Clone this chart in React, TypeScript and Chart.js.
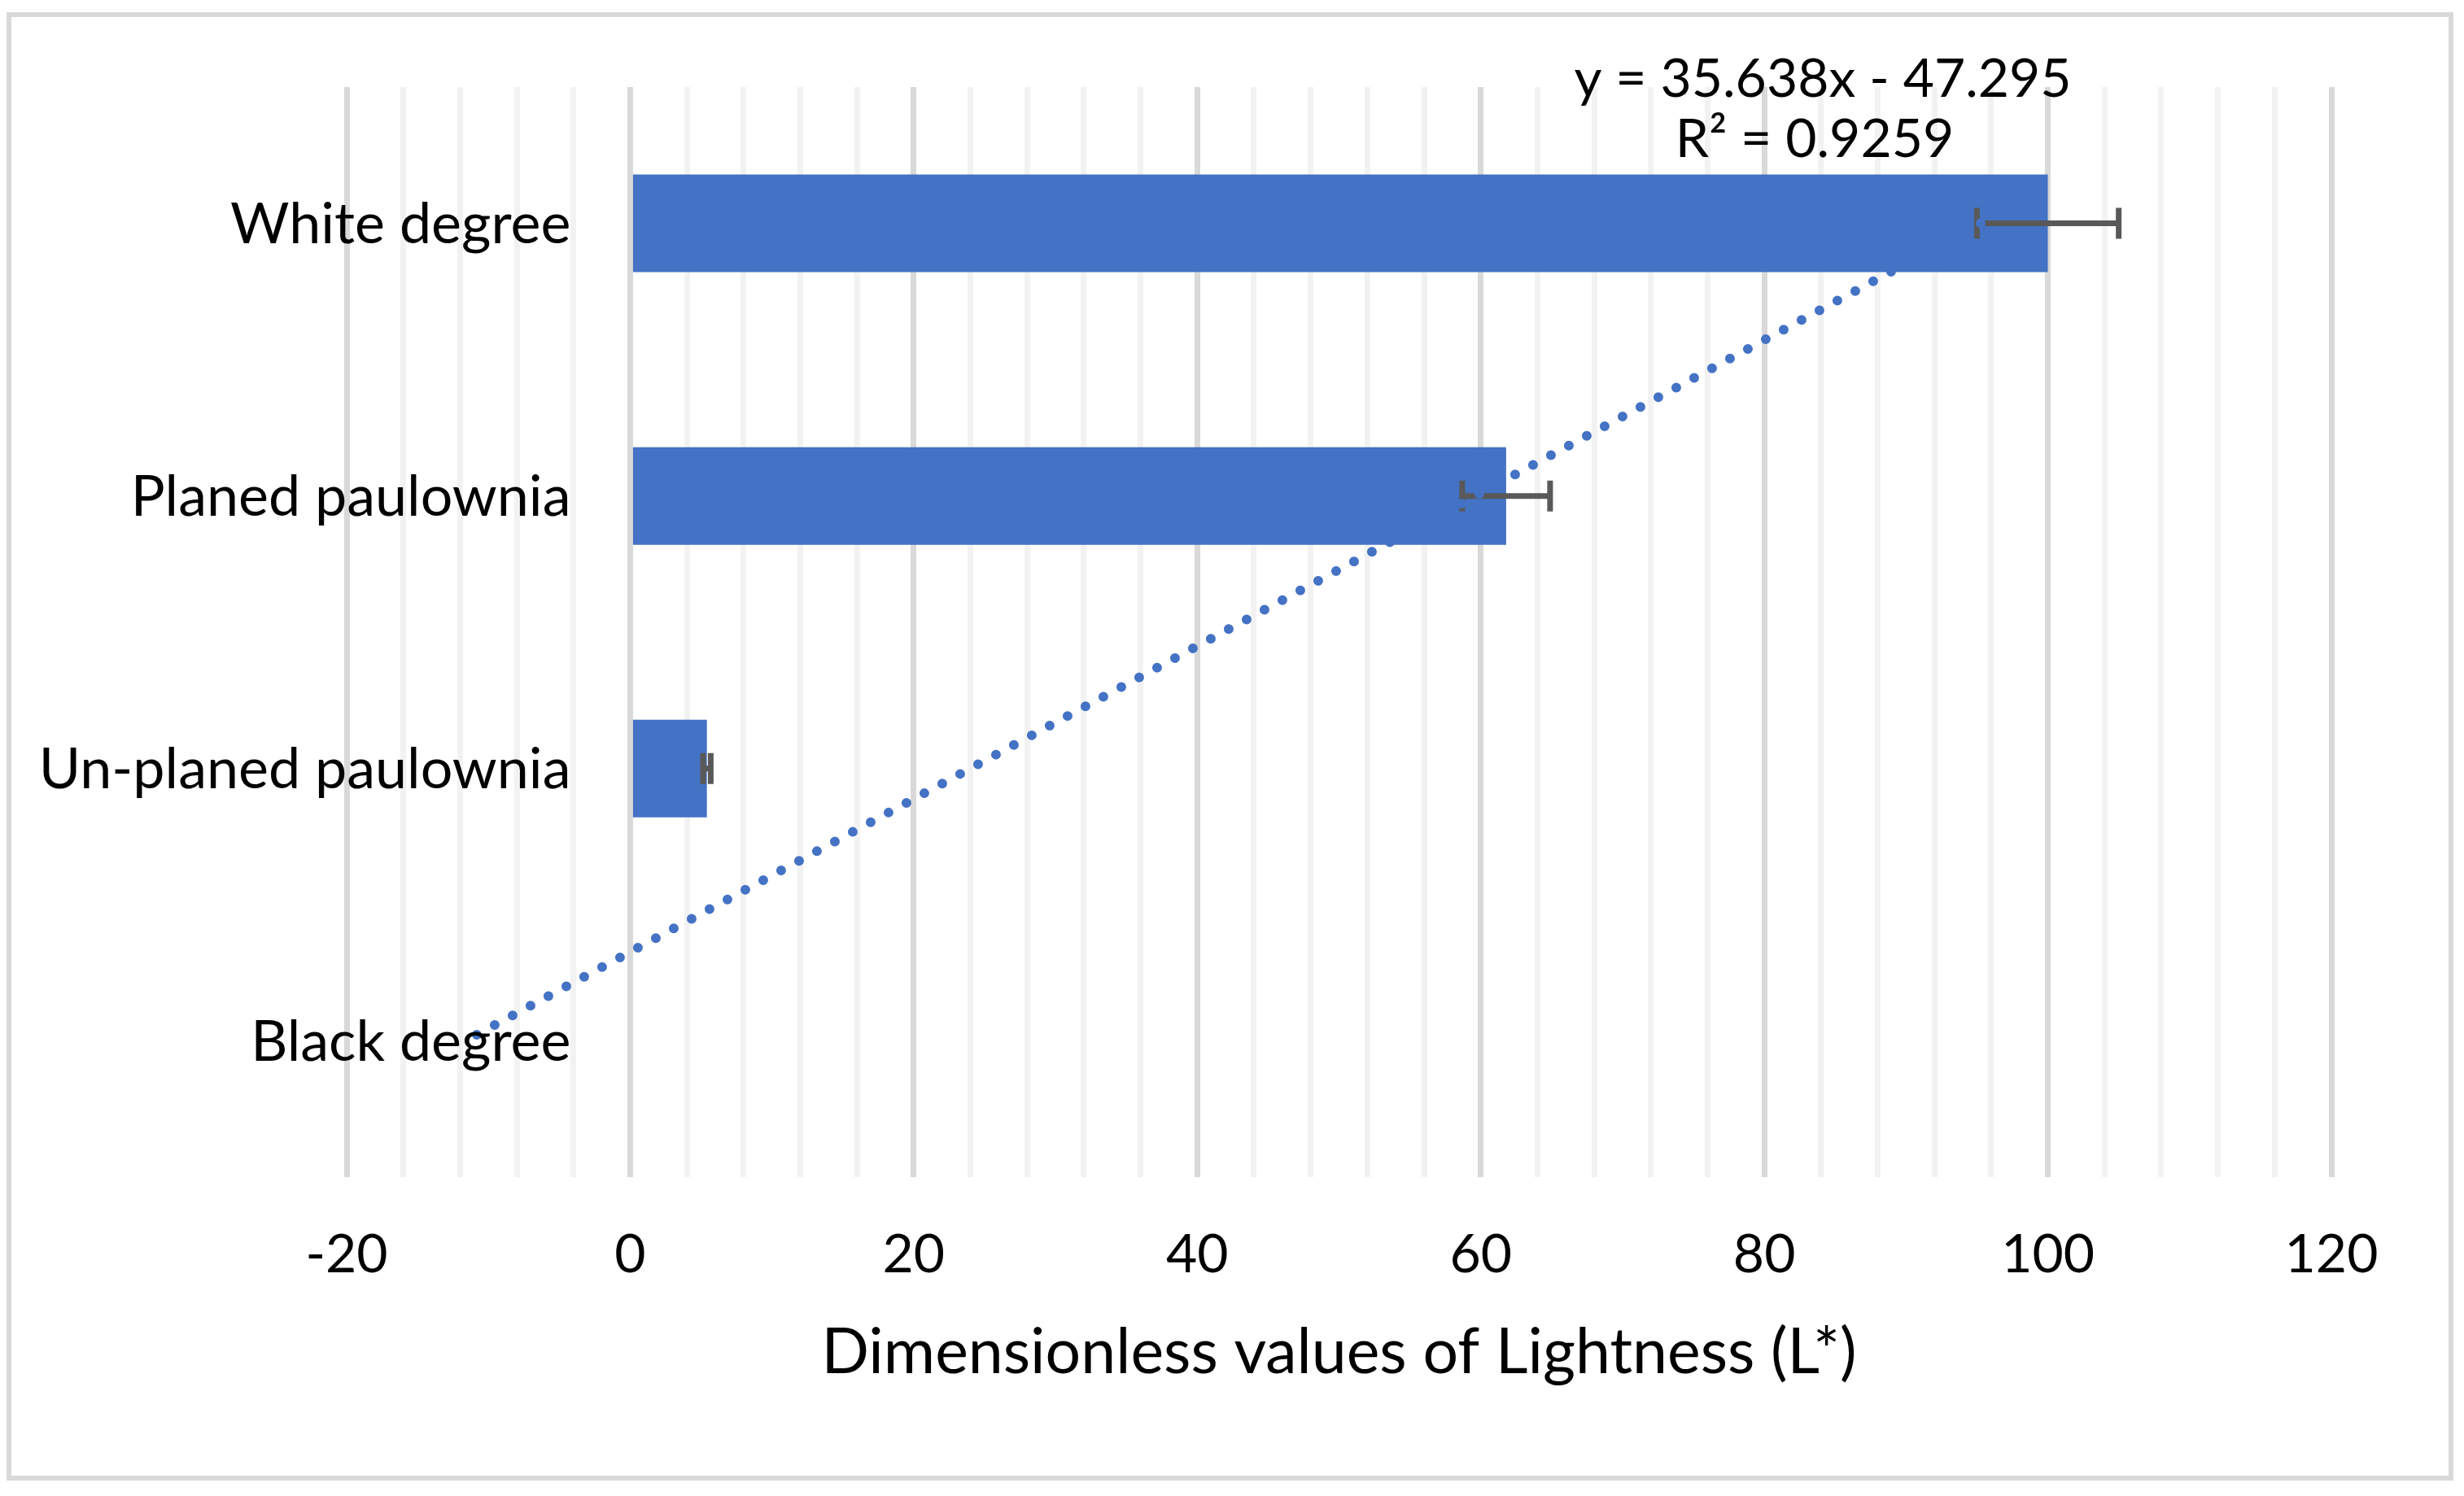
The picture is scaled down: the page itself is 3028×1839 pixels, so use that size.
import React, { useEffect, useRef } from "react";
import { Chart, registerables } from "chart.js";

Chart.register(...registerables);

// ---- data (top to bottom, as drawn) ----
const categories = ["White degree", "Planed paulownia", "Un-planed paulownia", "Black degree"];
const lightness = [100, 61.79, 5.41, 0];
const lightnessError = [5, 3.1, 0.27, 0];
// linear trendline shown on the chart (x = category index counted from the bottom)
const trendSlope = 35.638;
const trendIntercept = -47.295;
const trendIndex = [4, 3, 2, 1];
const trendValues = trendIndex.map((k) => trendSlope * k + trendIntercept);
const equationLines = ["y = 35.638x - 47.295", "R\u00B2 = 0.9259"];
const xMin = -20;
const xMax = 120;
const xMinorStep = 4;
const xMajorStep = 20;
const xTitle = "Dimensionless values of Lightness (L*)";

const FONT = "Lato, 'Open Sans', sans-serif";
const BLUE = "#4472C4";

const framePlugin = {
  id: "frame",
  beforeDraw(chart: any) {
    const ctx = chart.ctx;
    ctx.save();
    ctx.fillStyle = "#ffffff";
    ctx.fillRect(0, 0, chart.width, chart.height);
    ctx.strokeStyle = "#d9d9d9";
    ctx.lineWidth = 6;
    ctx.strokeRect(11, 18, 3001, 1799);
    ctx.restore();
  },
};

const errorBarPlugin = {
  id: "errorBars",
  afterDatasetDraw(chart: any, args: any) {
    if (args.index !== 0) return;
    const ctx = chart.ctx;
    const xs = chart.scales.x;
    const meta = chart.getDatasetMeta(0);
    ctx.save();
    ctx.strokeStyle = "#595959";
    ctx.lineWidth = 7;
    ctx.lineCap = "butt";
    lightness.forEach((v, i) => {
      const e = lightnessError[i];
      if (!e) return;
      const y = meta.data[i].y;
      const x1 = xs.getPixelForValue(v - e);
      const x2 = xs.getPixelForValue(v + e);
      const h = 19;
      ctx.beginPath();
      ctx.moveTo(x1, y);
      ctx.lineTo(x2, y);
      ctx.moveTo(x1, y - h);
      ctx.lineTo(x1, y + h);
      ctx.moveTo(x2, y - h);
      ctx.lineTo(x2, y + h);
      ctx.stroke();
    });
    ctx.restore();
  },
};

const labelPlugin = {
  id: "catLabels",
  afterDraw(chart: any) {
    const ctx = chart.ctx;
    const xs = chart.scales.x;
    const ys = chart.scales.y;
    ctx.save();
    ctx.fillStyle = "#000000";
    ctx.font = `70px ${FONT}`;
    ctx.textAlign = "right";
    ctx.textBaseline = "alphabetic";
    const x0 = xs.getPixelForValue(0) - 73;
    categories.forEach((c, i) => {
      ctx.fillText(c, x0, ys.getPixelForValue(i) + 24);
    });
    // trendline equation
    ctx.font = `66px ${FONT}`;
    ctx.textAlign = "center";
    ctx.fillText(equationLines[0], 2240, 119);
    ctx.fillText(equationLines[1], 2230, 193);
    ctx.restore();
  },
};

export default function App() {
  const ref = useRef<HTMLCanvasElement | null>(null);
  useEffect(() => {
    document.body.style.margin = "0";
    const canvas = ref.current!;
    const chart = new Chart(canvas, {
      type: "bar",
      data: {
        labels: categories,
        datasets: [
          {
            type: "bar",
            label: "Lightness",
            data: lightness,
            backgroundColor: BLUE,
            borderWidth: 0,
            barPercentage: 0.358,
            categoryPercentage: 1,
            order: 1,
          } as any,
          {
            type: "line",
            label: "Trend",
            data: trendValues,
            indexAxis: "y",
            borderColor: BLUE,
            borderWidth: 12,
            borderDash: [0, 25],
            borderCapStyle: "round",
            pointRadius: 0,
            tension: 0,
            fill: false,
            order: 0,
          } as any,
        ],
      },
      options: {
        indexAxis: "y",
        responsive: false,
        animation: false,
        devicePixelRatio: 1,
        layout: { padding: { left: 426, right: 163, top: 107, bottom: 130 } },
        plugins: { legend: { display: false }, tooltip: { enabled: false } },
        scales: {
          x: {
            type: "linear",
            min: xMin,
            max: xMax,
            border: { display: false },
            grid: {
              lineWidth: 7,
              drawTicks: false,
              color: (c: any) =>
                c.tick && Math.round(c.tick.value) % xMajorStep === 0 ? "#d9d9d9" : "#f2f2f2",
            },
            ticks: {
              stepSize: xMinorStep,
              autoSkip: false,
              maxRotation: 0,
              padding: 56,
              color: "#000000",
              font: { family: FONT, size: 66 },
              callback: (v: any) => (Math.round(v) % xMajorStep === 0 ? String(Math.round(v)) : ""),
            },
            title: {
              display: true,
              text: xTitle,
              color: "#000000",
              font: { family: FONT, size: 77 },
              padding: { top: -22, bottom: 0 },
            },
          },
          y: {
            type: "category",
            display: false,
            offset: true,
          },
        },
      } as any,
      plugins: [framePlugin, errorBarPlugin, labelPlugin],
    });
    return () => chart.destroy();
  }, []);
  return (
    <canvas
      ref={ref}
      width={3028}
      height={1839}
      style={{ display: "block", width: 3028, height: 1839 }}
    />
  );
}
